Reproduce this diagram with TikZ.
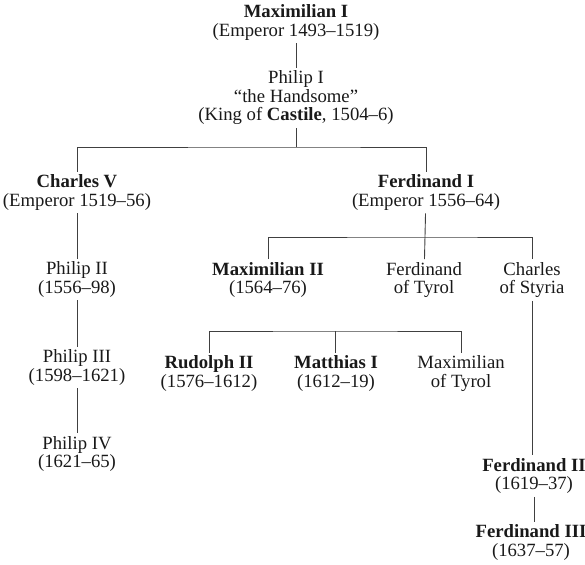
\documentclass[tikz,border=0pt]{standalone}
\usepackage{fontspec}
\setmainfont{Liberation Serif}
\usepackage{tikz}
\tikzstyle{person} = [align=center, inner sep=3pt, text=black!90, font=\fontsize{18.7}{18.5}\selectfont]
\tikzstyle{tie} = [draw=black!75, line width=0.9pt]

\begin{document}
\begin{tikzpicture}[x=1pt, y=-1pt]
	\useasboundingbox (0,0) rectangle (585,564);
	\node[person] (maxi) at (296,22.5) {\textbf{Maximilian I}\\(Emperor 1493--1519)};
	\node[person] (phil) at (296,98) {Philip I\\“the Handsome”\\(King of \textbf{Castile}, 1504--6)};
	\node[person] (charles) at (77,192.5) {\textbf{Charles V}\\(Emperor 1519--56)};
	\node[person] (ferdi) at (426,192.5) {\textbf{Ferdinand I}\\(Emperor 1556--64)};
	\node[person] (philii) at (77,279.5) {Philip II\\(1556--98)};
	\node[person] (philiii) at (77,367.5) {Philip III\\(1598--1621)};
	\node[person] (philiv) at (77,454) {Philip IV\\(1621--65)};
	\node[person] (maxii) at (268,280) {\textbf{Maximilian II}\\(1564--76)};
	\node[person] (tyrol) at (424,280) {Ferdinand\\of Tyrol};
	\node[person] (styria) at (532,280) {Charles\\of Styria};
	\node[person] (rudolph) at (209,373.5) {\textbf{Rudolph II}\\(1576--1612)};
	\node[person] (matthias) at (336,373.5) {\textbf{Matthias I}\\(1612--19)};
	\node[person] (maxtyrol) at (461,373.5) {Maximilian\\of Tyrol};
	\node[person] (ferdii) at (534,476) {\textbf{Ferdinand II}\\(1619--37)};
	\node[person] (ferdiii) at (531,542.5) {\textbf{Ferdinand III}\\(1637--57)};

	\coordinate (forka) at (296,147);
	\coordinate (forkb) at (424,237);
	\coordinate (forkc) at (335,331);

	\draw[tie] (maxi) -- (phil);
	\draw[tie] (phil) -- (forka);
	\draw[tie] (charles.north) |- (forka) -| (ferdi.north);
	\draw[tie] (charles) -- (philii);
	\draw[tie] (philii) -- (philiii);
	\draw[tie] (philiii) -- (philiv);
	\draw[tie] (maxii.north) |- (forkb) -| (styria.north);
	\draw[tie] (ferdi) -- (tyrol);
	\draw[tie] (rudolph.north) |- (forkc) -| (maxtyrol.north);
	\draw[tie] (forkc) -- (forkc |- matthias.north);
	\draw[tie] (styria.south) -- (styria.south |- ferdii.north);
	\draw[tie] (ferdii.south) -- (ferdii.south |- ferdiii.north);
\end{tikzpicture}
\end{document}
